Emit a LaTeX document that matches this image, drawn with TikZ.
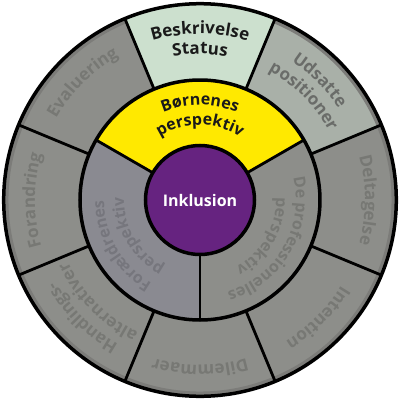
\documentclass[tikz,border=0pt]{standalone}
\usepackage{fontspec}
\setmainfont{Open Sans}
\usetikzlibrary{decorations.text}

\definecolor{ringgray}{RGB}{141,142,138}
\definecolor{bandgray}{RGB}{124,124,121}
\definecolor{textgray}{RGB}{119,120,116}
\definecolor{statusgreen}{RGB}{204,224,206}
\definecolor{udsattegray}{RGB}{169,176,168}
\definecolor{udsattetext}{RGB}{106,108,105}
\definecolor{boernyellow}{RGB}{255,233,0}
\definecolor{foraeldregray}{RGB}{138,138,145}
\definecolor{foraeldretext}{RGB}{118,118,125}
\definecolor{inkpurple}{RGB}{102,35,128}
\definecolor{labelblack}{RGB}{26,26,26}

\newcommand{\ringfont}{\fontsize{17}{20}\selectfont\bfseries}
\newcommand{\midfont}{\fontsize{16}{19}\selectfont\bfseries}
% label along an arc: [font] angle, radius, colour, text
\newcommand{\ringlabel}[5][\ringfont]{%
  \path[ringtext={|#1\color{#4}|#5}]
    (#2+80:#3) arc[start angle=#2+80, end angle=#2-80, radius=#3];}

\tikzset{
  ringtext/.style={decorate, decoration={text along path, text align=center, text={#1}}},
  divider/.style={line width=2.8pt},
  ringline/.style={line width=3.5pt},
}

\begin{document}
\begin{tikzpicture}[x=1pt,y=1pt]
    \useasboundingbox (-200,-200) rectangle (200,200);
    % outer ring
    \fill[ringgray]    (0,0) circle[radius=196];
    \fill[statusgreen] (0,0) -- (67.5:196) arc[start angle=67.5, end angle=112.5, radius=196] -- cycle;
    \fill[udsattegray] (0,0) -- (22.5:196) arc[start angle=22.5, end angle=67.5, radius=196] -- cycle;
    \draw[bandgray, line width=3pt] (67.5:193) arc[start angle=67.5, end angle=-247.5, radius=193];
    \foreach \a in {22.5,67.5,...,337.5}
        \draw[divider] (\a:120) -- (\a:196);
    \draw[ringline] (0,0) circle[radius=196.3];
    % middle ring
    \fill[ringgray]      (0,0) circle[radius=120];
    \fill[boernyellow]   (0,0) -- (30:120) arc[start angle=30, end angle=150, radius=120] -- cycle;
    \fill[foraeldregray] (0,0) -- (150:120) arc[start angle=150, end angle=270, radius=120] -- cycle;
    \foreach \a in {30,150,270}
        \draw[divider] (\a:55) -- (\a:120);
    \draw[ringline] (0,0) circle[radius=120];
    % centre
    \draw[ringline, fill=inkpurple] (0,0) circle[radius=54.5];
    \node[text=white, font=\midfont] (inklusion) at (0,0) {Inklusion};
    % outer labels
    \ringlabel{90}{166}{labelblack}{Beskrivelse}
    \ringlabel{90}{146}{labelblack}{Status}
    \ringlabel{45}{166}{udsattetext}{Udsatte}
    \ringlabel{45}{146}{udsattetext}{positioner}
    \ringlabel{0}{165}{textgray}{Deltagelse}
    \ringlabel{-45}{165}{textgray}{Intention}
    \ringlabel{-90}{165}{textgray}{Dilemmaer}
    \ringlabel{-135}{166}{textgray}{Handlings-}
    \ringlabel{-135}{146}{textgray}{alternativer}
    \ringlabel{180}{165}{textgray}{Forandring}
    \ringlabel{135}{165}{textgray}{Evaluering}
    % middle labels
    \ringlabel[\midfont]{90}{95}{labelblack}{Børnenes}
    \ringlabel[\midfont]{90}{75}{labelblack}{perspektiv}
    \ringlabel[\midfont]{-30}{96}{textgray}{De professionelles}
    \ringlabel[\midfont]{-30}{76}{textgray}{perspektiv}
    \ringlabel[\midfont]{210}{96}{foraeldretext}{Forældrenes}
    \ringlabel[\midfont]{210}{76}{foraeldretext}{perspektiv}
\end{tikzpicture}
\end{document}
